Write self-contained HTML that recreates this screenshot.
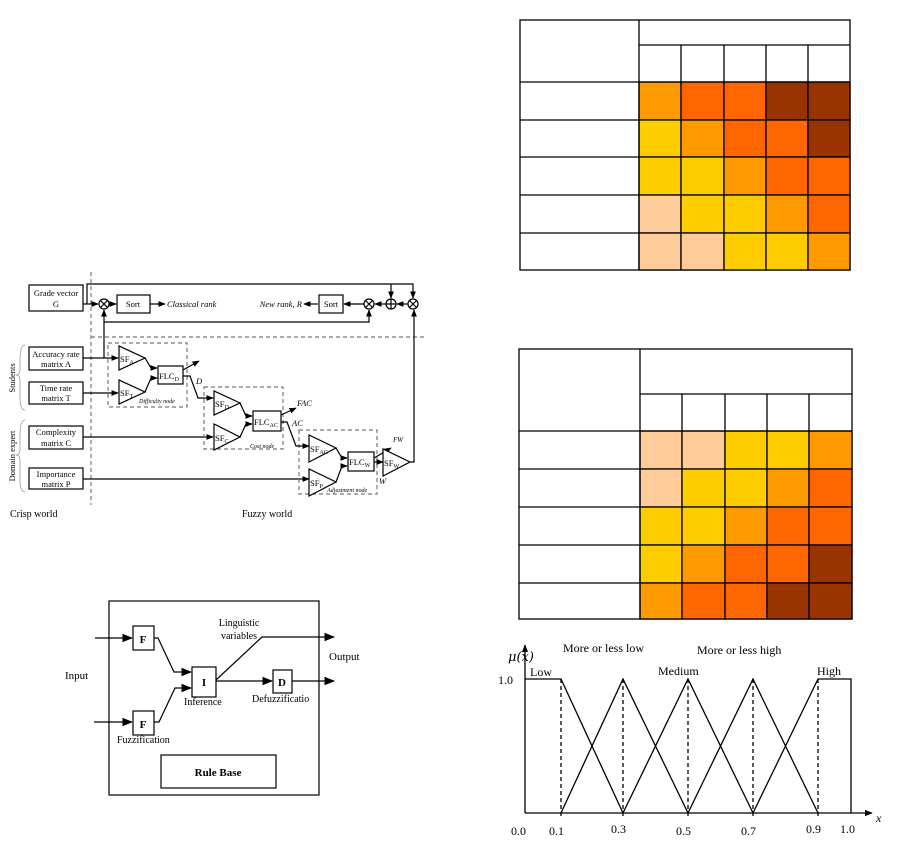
<!DOCTYPE html>
<html><head><meta charset="utf-8"><style>
html,body{margin:0;padding:0;background:#fff}
svg{display:block}
text{font-family:"Liberation Serif",serif;fill:#000}
</style></head><body>
<svg width="901" height="842" viewBox="0 0 901 842" xmlns="http://www.w3.org/2000/svg">
<defs>
<marker id="a" viewBox="0 0 10 10" refX="9" refY="5" markerWidth="6" markerHeight="6" orient="auto"><path d="M0,1 L10,5 L0,9z" fill="#000"/></marker>
<marker id="b" viewBox="0 0 10 10" refX="9" refY="5" markerWidth="9" markerHeight="9" orient="auto"><path d="M0,1 L10,5 L0,9z" fill="#000"/></marker>
</defs>

<!-- Table 1 -->
<g stroke="#000" stroke-width="1.3">
<rect x="520" y="20" width="330" height="250" fill="#fff"/>
<g>
<rect x="639" y="82" width="42" height="38" fill="#f90"/><rect x="681" y="82" width="43" height="38" fill="#f60"/><rect x="724" y="82" width="42" height="38" fill="#f60"/><rect x="766" y="82" width="42" height="38" fill="#930"/><rect x="808" y="82" width="42" height="38" fill="#930"/>
<rect x="639" y="120" width="42" height="37" fill="#fc0"/><rect x="681" y="120" width="43" height="37" fill="#f90"/><rect x="724" y="120" width="42" height="37" fill="#f60"/><rect x="766" y="120" width="42" height="37" fill="#f60"/><rect x="808" y="120" width="42" height="37" fill="#930"/>
<rect x="639" y="157" width="42" height="38" fill="#fc0"/><rect x="681" y="157" width="43" height="38" fill="#fc0"/><rect x="724" y="157" width="42" height="38" fill="#f90"/><rect x="766" y="157" width="42" height="38" fill="#f60"/><rect x="808" y="157" width="42" height="38" fill="#f60"/>
<rect x="639" y="195" width="42" height="38" fill="#fc9"/><rect x="681" y="195" width="43" height="38" fill="#fc0"/><rect x="724" y="195" width="42" height="38" fill="#fc0"/><rect x="766" y="195" width="42" height="38" fill="#f90"/><rect x="808" y="195" width="42" height="38" fill="#f60"/>
<rect x="639" y="233" width="42" height="37" fill="#fc9"/><rect x="681" y="233" width="43" height="37" fill="#fc9"/><rect x="724" y="233" width="42" height="37" fill="#fc0"/><rect x="766" y="233" width="42" height="37" fill="#fc0"/><rect x="808" y="233" width="42" height="37" fill="#f90"/>
</g>
<path d="M639,20V270 M639,45H850 M681,45V82 M724,45V82 M766,45V82 M808,45V82 M520,82H850 M520,120H639 M520,157H639 M520,195H639 M520,233H639" fill="none"/>
</g>

<!-- Table 2 -->
<g stroke="#000" stroke-width="1.3">
<rect x="519" y="349" width="333" height="270" fill="#fff"/>
<rect x="640" y="431" width="42" height="38" fill="#fc9"/><rect x="682" y="431" width="43" height="38" fill="#fc9"/><rect x="725" y="431" width="42" height="38" fill="#fc0"/><rect x="767" y="431" width="42" height="38" fill="#fc0"/><rect x="809" y="431" width="43" height="38" fill="#f90"/>
<rect x="640" y="469" width="42" height="38" fill="#fc9"/><rect x="682" y="469" width="43" height="38" fill="#fc0"/><rect x="725" y="469" width="42" height="38" fill="#fc0"/><rect x="767" y="469" width="42" height="38" fill="#f90"/><rect x="809" y="469" width="43" height="38" fill="#f60"/>
<rect x="640" y="507" width="42" height="38" fill="#fc0"/><rect x="682" y="507" width="43" height="38" fill="#fc0"/><rect x="725" y="507" width="42" height="38" fill="#f90"/><rect x="767" y="507" width="42" height="38" fill="#f60"/><rect x="809" y="507" width="43" height="38" fill="#f60"/>
<rect x="640" y="545" width="42" height="38" fill="#fc0"/><rect x="682" y="545" width="43" height="38" fill="#f90"/><rect x="725" y="545" width="42" height="38" fill="#f60"/><rect x="767" y="545" width="42" height="38" fill="#f60"/><rect x="809" y="545" width="43" height="38" fill="#930"/>
<rect x="640" y="583" width="42" height="36" fill="#f90"/><rect x="682" y="583" width="43" height="36" fill="#f60"/><rect x="725" y="583" width="42" height="36" fill="#f60"/><rect x="767" y="583" width="42" height="36" fill="#930"/><rect x="809" y="583" width="43" height="36" fill="#930"/>
<path d="M640,349V619 M640,394H852 M682,394V431 M725,394V431 M767,394V431 M809,394V431 M519,431H852 M519,469H640 M519,507H640 M519,545H640 M519,583H640" fill="none"/>
</g>

<!-- Main block diagram -->
<g stroke="#000" stroke-width="1.2" fill="none">
<path d="M91,272V505" stroke="#777" stroke-dasharray="4,3"/>
<path d="M91,337H425" stroke="#777" stroke-dasharray="4,3"/>
<rect x="29" y="285" width="54" height="26" fill="#fff"/>
<rect x="29" y="347" width="54" height="23" fill="#fff"/>
<rect x="29" y="382" width="54" height="22" fill="#fff"/>
<rect x="29" y="426" width="54" height="23" fill="#fff"/>
<rect x="29" y="468" width="54" height="21" fill="#fff"/>
<rect x="117" y="295" width="33" height="18"/>
<rect x="319" y="295" width="24" height="18"/>
<circle cx="104" cy="304" r="5"/><path d="M100.5,300.5l7,7M107.5,300.5l-7,7"/>
<circle cx="369" cy="304" r="5"/><path d="M365.5,300.5l7,7M372.5,300.5l-7,7"/>
<circle cx="391" cy="304" r="5"/><path d="M386,304h10M391,299v10"/>
<circle cx="413" cy="304" r="5"/><path d="M409.5,300.5l7,7M416.5,300.5l-7,7"/>
<path d="M83,304H98" marker-end="url(#a)"/>
<path d="M87,304V284H413V298" marker-end="url(#a)"/>
<path d="M391,284V298" marker-end="url(#a)"/>
<path d="M109,304H116" marker-end="url(#a)"/>
<path d="M150,304H165" marker-end="url(#a)"/>
<path d="M318,304H304" marker-end="url(#a)"/>
<path d="M364,304H344" marker-end="url(#a)"/>
<path d="M386,304H375" marker-end="url(#a)"/>
<path d="M408,304H397" marker-end="url(#a)"/>
<path d="M104,358V310" marker-end="url(#a)"/>
<path d="M104,322H369V310" marker-end="url(#a)"/>
<path d="M83,358H118" marker-end="url(#a)"/>
<path d="M83,393H118" marker-end="url(#a)"/>
<path d="M83,437H213" marker-end="url(#a)"/>
<path d="M83,479H309" marker-end="url(#a)"/>
<!-- dashed nodes -->
<rect x="108" y="343" width="79" height="64" stroke="#777" stroke-dasharray="4,3"/>
<rect x="204" y="387" width="79" height="62" stroke="#777" stroke-dasharray="4,3"/>
<rect x="299" y="430" width="78" height="64" stroke="#777" stroke-dasharray="4,3"/>
<path d="M119,346L119,370L145,358Z" fill="#fff"/>
<path d="M119,380L119,404L145,392Z" fill="#fff"/>
<rect x="158" y="366" width="25" height="18" fill="#fff"/>
<path d="M145,358L151,368H157" marker-end="url(#a)"/>
<path d="M145,392L151,378H157" marker-end="url(#a)"/>
<path d="M183,370L199,361" marker-end="url(#a)"/>
<path d="M183,376H190L198,398H213" marker-end="url(#a)"/>
<path d="M214,391L214,415L240,403Z" fill="#fff"/>
<path d="M214,424L214,450L240,437Z" fill="#fff"/>
<rect x="253" y="411" width="28" height="20" fill="#fff"/>
<path d="M240,403L246,416H252" marker-end="url(#a)"/>
<path d="M240,437L246,424H252" marker-end="url(#a)"/>
<path d="M281,415L296,408" marker-end="url(#a)"/>
<path d="M281,422H287L296,446H309" marker-end="url(#a)"/>
<path d="M309,435L309,462L336,448Z" fill="#fff"/>
<path d="M309,469L309,496L336,482Z" fill="#fff"/>
<rect x="348" y="452" width="26" height="19" fill="#fff"/>
<path d="M336,448L342,458H347" marker-end="url(#a)"/>
<path d="M336,482L342,466H347" marker-end="url(#a)"/>
<path d="M374,458L391,448" marker-end="url(#a)"/>
<path d="M374,462H383" marker-end="url(#a)"/>
<path d="M383,449L383,476L410,462Z" fill="#fff"/>
<path d="M410,462H414V310" marker-end="url(#a)"/>
<path d="M25,345Q20,345 20,360V370Q20,375 16,375Q20,375 20,380V398Q20,410 25,410" stroke="#999" stroke-width="0.8"/>
<path d="M25,420Q20,420 20,435V450Q20,455 16,455Q20,455 20,460V480Q20,492 25,492" stroke="#999" stroke-width="0.8"/>
</g>
<g font-size="8.5">
<text x="56" y="296" text-anchor="middle" style="font-family:'Liberation Serif',serif">Grade vector</text>
<text x="56" y="307" text-anchor="middle">G</text>
<text x="56" y="357" text-anchor="middle">Accuracy rate</text>
<text x="56" y="367" text-anchor="middle">matrix A</text>
<text x="56" y="391" text-anchor="middle">Time rate</text>
<text x="56" y="401" text-anchor="middle">matrix T</text>
<text x="56" y="435" text-anchor="middle">Complexity</text>
<text x="56" y="446" text-anchor="middle">matrix C</text>
<text x="56" y="477" text-anchor="middle">Importance</text>
<text x="56" y="487" text-anchor="middle">matrix P</text>
<text x="133" y="307" text-anchor="middle">Sort</text>
<text x="331" y="307" text-anchor="middle">Sort</text>
<text x="167" y="307" font-style="italic">Classical rank</text>
<text x="302" y="307" font-style="italic" text-anchor="end">New rank, R</text>
<text x="120" y="362">SF<tspan font-size="6" dy="2">A</tspan></text>
<text x="120" y="396">SF<tspan font-size="6" dy="2">T</tspan></text>
<text x="159" y="379">FLC<tspan font-size="6" dy="2">D</tspan></text>
<text x="215" y="407">SF<tspan font-size="6" dy="2">D</tspan></text>
<text x="215" y="441">SF<tspan font-size="6" dy="2">C</tspan></text>
<text x="254" y="425">FLC<tspan font-size="6" dy="2">AC</tspan></text>
<text x="310" y="452">SF<tspan font-size="6" dy="2">AC</tspan></text>
<text x="310" y="486">SF<tspan font-size="6" dy="2">P</tspan></text>
<text x="349" y="465">FLC<tspan font-size="6" dy="2">W</tspan></text>
<text x="384" y="466">SF<tspan font-size="6" dy="2">W</tspan></text>
<text x="196" y="384" font-style="italic">D</text>
<text x="297" y="406" font-style="italic">FAC</text>
<text x="292" y="426" font-style="italic">AC</text>
<text x="393" y="442" font-style="italic" font-size="7">FW</text>
<text x="379" y="484" font-style="italic">W</text>
<text x="139" y="403" font-style="italic" font-size="6">Difficulty node</text>
<text x="250" y="448" font-style="italic" font-size="6">Cost node</text>
<text x="327" y="492" font-style="italic" font-size="6">Adjustment node</text>
<text x="10" y="517" font-size="10">Crisp world</text>
<text x="242" y="517" font-size="10">Fuzzy world</text>
<text transform="translate(15,378) rotate(-90)" text-anchor="middle" fill="#555">Students</text>
<text transform="translate(15,456) rotate(-90)" text-anchor="middle" fill="#555">Domain expert</text>
</g>

<!-- Fuzzy system diagram -->
<g stroke="#000" stroke-width="1.2" fill="none">
<rect x="109" y="601" width="210" height="194"/>
<rect x="133" y="626" width="21" height="24" fill="#fff"/>
<rect x="133" y="711" width="21" height="24" fill="#fff"/>
<rect x="192" y="667" width="24" height="30" fill="#fff"/>
<rect x="273" y="670" width="19" height="23" fill="#fff"/>
<rect x="161" y="755" width="115" height="33"/>
<path d="M95,638H132" marker-end="url(#b)"/>
<path d="M94,722H132" marker-end="url(#b)"/>
<path d="M154,638H158L174,672H191" marker-end="url(#b)"/>
<path d="M154,722H159L175,688H191" marker-end="url(#b)"/>
<path d="M216,681H272" marker-end="url(#b)"/>
<path d="M216,680L262,637H334" marker-end="url(#b)"/>
<path d="M292,681H334" marker-end="url(#b)"/>
</g>
<g font-size="11">
<text x="143" y="643" text-anchor="middle" font-weight="bold">F</text>
<text x="143" y="728" text-anchor="middle" font-weight="bold">F</text>
<text x="204" y="686" text-anchor="middle" font-weight="bold">I</text>
<text x="282" y="686" text-anchor="middle" font-weight="bold">D</text>
<text x="218" y="776" text-anchor="middle" font-weight="bold">Rule Base</text>
<text x="65" y="679">Input</text>
<text x="329" y="660">Output</text>
<text x="239" y="626" text-anchor="middle" font-size="10">Linguistic</text>
<text x="239" y="639" text-anchor="middle" font-size="10">variables</text>
<text x="184" y="705" font-size="10">Inference</text>
<text x="252" y="702" font-size="10">Defuzzificatio</text>
<text x="117" y="743" font-size="10">Fuzzification</text>
</g>

<!-- Membership chart -->
<g stroke="#000" stroke-width="1.3" fill="none">
<path d="M525,813V645" marker-end="url(#a)"/>
<path d="M525,813H872" marker-end="url(#a)"/>
<path d="M525,679H561L623,813"/>
<path d="M561,813L623,679L688,813"/>
<path d="M623,813L688,679L753,813"/>
<path d="M688,813L753,679L818,813"/>
<path d="M753,813L818,679H851V813"/>
<path d="M561,679V818M623,679V818M688,679V818M753,679V818M818,679V818" stroke-dasharray="4,3"/>
</g>
<g font-size="13" style="font-family:'DejaVu Serif',serif">
<text x="508" y="661" font-style="italic" font-size="13" style="font-family:'DejaVu Serif',serif">μ(x)</text>
<text x="498" y="684" font-size="12">1.0</text>
<text x="530" y="676" font-size="12">Low</text>
<text x="563" y="652" font-size="12">More or less low</text>
<text x="697" y="654" font-size="12">More or less high</text>
<text x="658" y="675" font-size="12">Medium</text>
<text x="817" y="675" font-size="12">High</text>
<text x="876" y="822" font-style="italic" font-size="12">x</text>
<text x="511" y="835" font-size="12">0.0</text>
<text x="549" y="835" font-size="12">0.1</text>
<text x="611" y="833" font-size="12">0.3</text>
<text x="676" y="835" font-size="12">0.5</text>
<text x="741" y="835" font-size="12">0.7</text>
<text x="806" y="833" font-size="12">0.9</text>
<text x="840" y="833" font-size="12">1.0</text>
</g>
</svg>
</body></html>
